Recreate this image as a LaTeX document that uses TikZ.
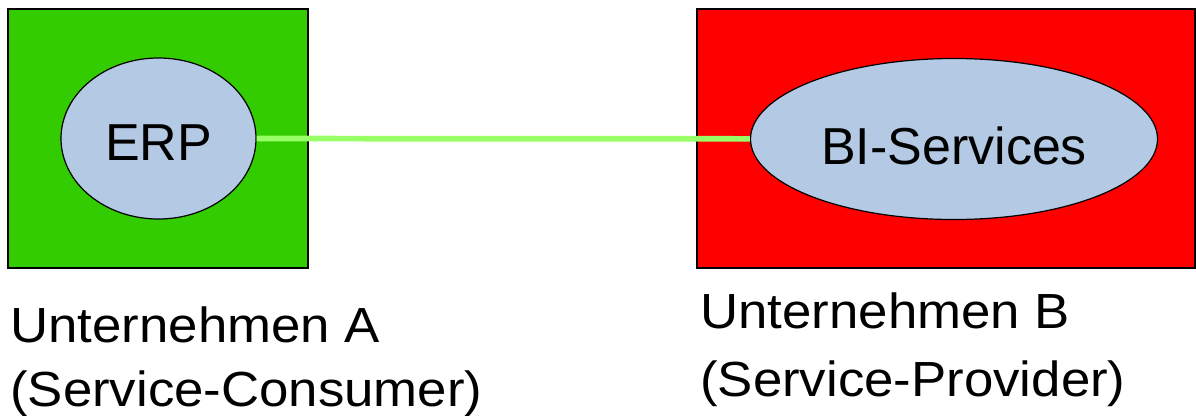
\documentclass[tikz,border=0pt]{standalone}
\usepackage{fontspec}
\setmainfont{Liberation Sans}
\usetikzlibrary{shapes.geometric}

\definecolor{firmgreen}{RGB}{51,204,0}
\definecolor{firmred}{RGB}{255,0,0}
\definecolor{appblue}{RGB}{180,201,227}
\definecolor{linkgreen}{RGB}{153,255,102}

% captions under the boxes run a little wide
\newcommand{\widetext}[1]{\scalebox{1.07}[1]{#1}}

\tikzset{
  firm/.style={draw=black, line width=1.1pt, rectangle, inner sep=0pt, minimum height=194.25pt},
  app/.style={draw=black, line width=0.9pt, ellipse, fill=appblue, inner sep=0pt,
    minimum height=120.75pt, text depth=0pt, font=\fontsize{39}{47}\selectfont},
  link/.style={draw=linkgreen, line width=4.3pt},
  caption/.style={inner sep=0pt, align=left, font=\fontsize{37}{48}\selectfont}
}

\begin{document}
\begin{tikzpicture}[x=0.75pt,y=0.75pt,yscale=-1,xscale=1]
\useasboundingbox (0,0) rectangle (1196,415);

% company boxes
\node [firm, fill=firmgreen, minimum width=225pt] (firmA) at (158,138.5) {};
\node [firm, fill=firmred, minimum width=373.5pt] (firmB) at (946,138.5) {};

% applications (text height pushes the label a bit below centre)
\node [app, minimum width=146.25pt, text height=32.5pt] (erp) at (158.5,138.5) {ERP};
\node [app, minimum width=305.25pt, text height=38pt] (bi) at (954,139) {BI-Services};

% connection
\draw [link] (erp) -- (bi);

% Text Node (base = last line)
\node [caption, anchor=base west] (consumer) at (10,406) {\widetext{Unternehmen A}\\\widetext{(Service-Consumer)}};
% Text Node
\node [caption, anchor=base west] (provider) at (700,396) {\widetext{Unternehmen B}\\[3pt]\widetext{(Service-Provider)}};

\end{tikzpicture}
\end{document}
